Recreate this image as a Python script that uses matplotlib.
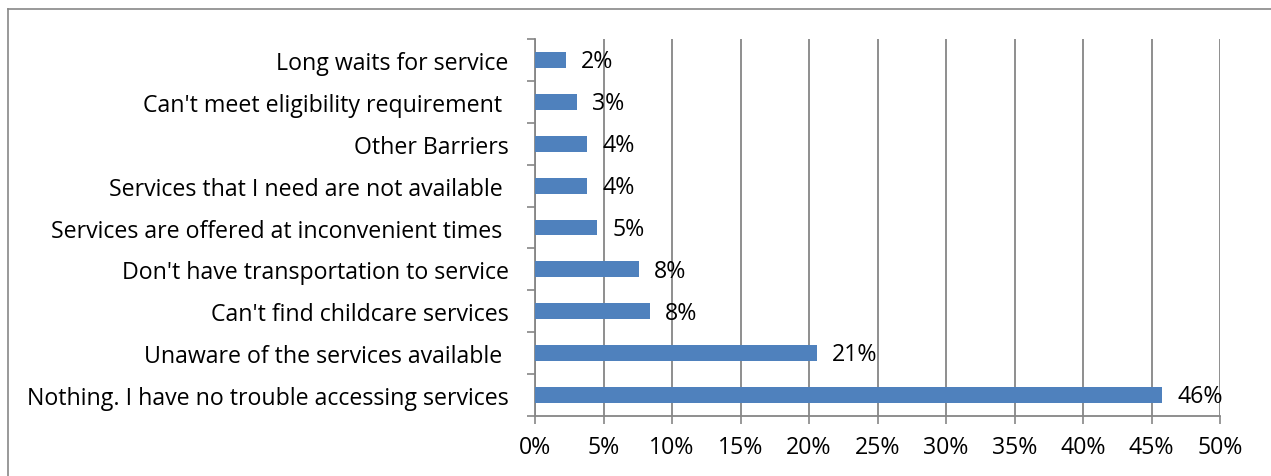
import matplotlib.pyplot as plt
from matplotlib.lines import Line2D

# data, bottom to top
barriers = [
    "Nothing. I have no trouble accessing services",
    "Unaware of the services available ",
    "Can't find childcare services",
    "Don't have transportation to service",
    "Services are offered at inconvenient times ",
    "Services that I need are not available ",
    "Other Barriers",
    "Can't meet eligibility requirement ",
    "Long waits for service",
]
share = [45.8, 20.6, 8.4, 7.6, 4.55, 3.8, 3.8, 3.05, 2.26]
xticks = [0, 5, 10, 15, 20, 25, 30, 35, 40, 45, 50]

plt.rcParams['font.family'] = ['Open Sans', 'DejaVu Sans']

W, H = 1271, 477
fig = plt.figure(figsize=(W / 100, H / 100), dpi=100)
ax = fig.add_axes([535 / W, 1 - 417 / H, (1220 - 535) / W, (417 - 40) / H])

grey = '#868686'
fs = 16.7
ypos = range(len(barriers))
ax.barh(ypos, share, height=0.38, color='#4F81BD', zorder=3)
for y, v in zip(ypos, share):
    ax.text(v + 1.1, y - 0.03, f"{int(v + 0.5)}%", va='center', ha='left', fontsize=fs, zorder=4)

ax.set_xlim(0, 50)
ax.set_ylim(-0.5, len(barriers) - 0.5)
ax.set_xticks(xticks)
ax.set_xticklabels([f"{t}%" for t in xticks], fontsize=fs)
ax.set_yticks(list(ypos))
ax.set_yticklabels(barriers, fontsize=fs)
ax.set_yticks([i - 0.5 for i in range(len(barriers) + 1)], minor=True)
ax.tick_params(axis='y', which='major', length=0, pad=19)
ax.tick_params(axis='y', which='minor', length=6, color=grey, width=1.2)
ax.tick_params(axis='x', length=6, color=grey, width=1.2, pad=8)
ax.xaxis.grid(True, color=grey, linewidth=1.3, zorder=0)
ax.set_axisbelow(True)
for s in ['top', 'right']:
    ax.spines[s].set_visible(False)
for s in ['left', 'bottom']:
    ax.spines[s].set_color(grey)
    ax.spines[s].set_linewidth(1.3)

# outer chart border (cut off at right and bottom)
fig.add_artist(Line2D([8 / W, 1.01], [1 - 10 / H] * 2, color='#878787', lw=1.2, transform=fig.transFigure))
fig.add_artist(Line2D([8 / W] * 2, [-0.01, 1 - 10 / H], color='#878787', lw=1.2, transform=fig.transFigure))

fig.savefig('out.png', dpi=100)
